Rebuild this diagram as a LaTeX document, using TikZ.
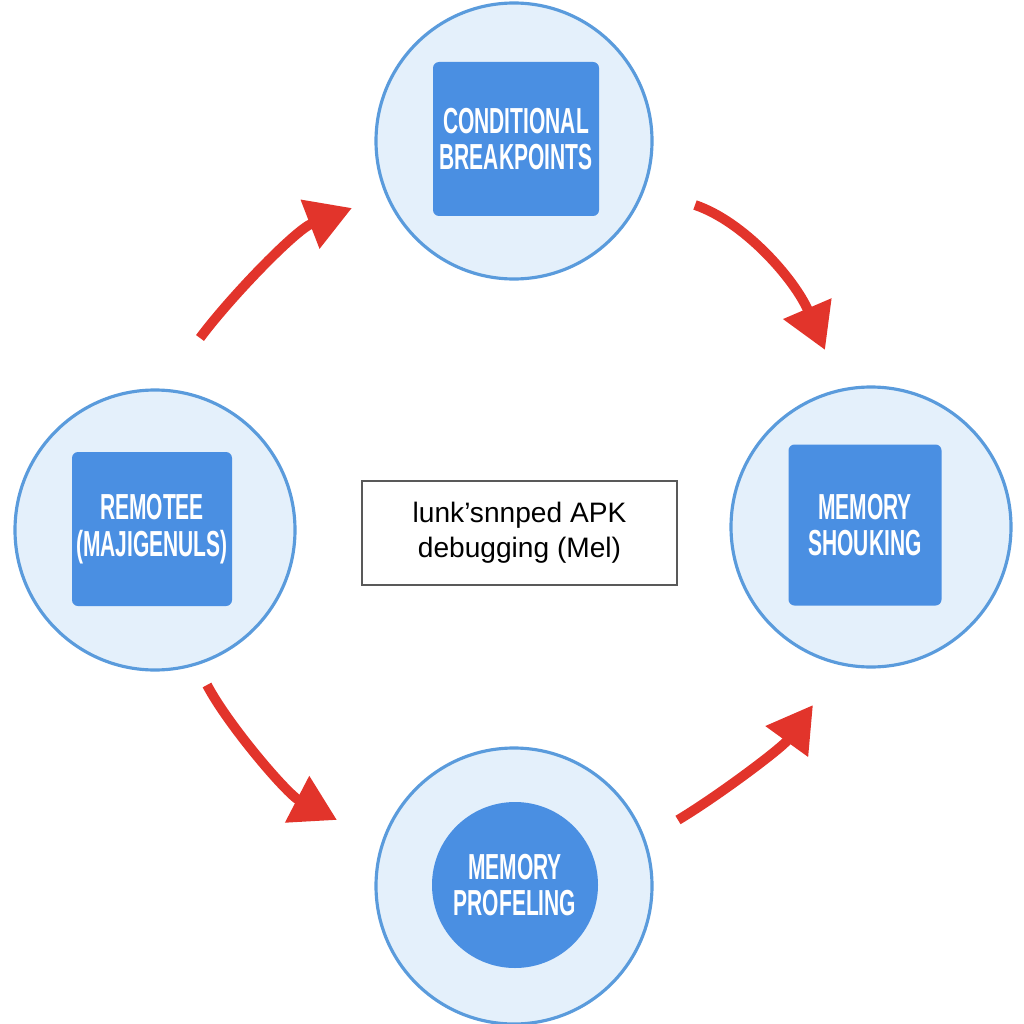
\documentclass[tikz,border=0pt]{standalone}
\usepackage{fontspec}
\setmainfont{Liberation Sans}
\usetikzlibrary{arrows.meta, positioning}
\definecolor{ringfill}{HTML}{E4F0FB}
\definecolor{ringline}{HTML}{5A9BDC}
\definecolor{tilefill}{HTML}{4A8FE2}
\definecolor{flowred}{HTML}{E2342B}
\newcommand{\narrow}[1]{\scalebox{0.58}[1]{#1}}

\begin{document}
\begin{tikzpicture}[
  x=0.1mm, y=-0.1mm,
  ring/.style={circle, draw=ringline, line width=0.9pt, fill=ringfill, minimum size=27.6mm, inner sep=0pt},
  tile/.style={rounded corners=0.6mm, fill=tilefill, text=white, align=center,
    font=\bfseries\fontsize{10.3}{10.5}\selectfont, inner sep=0pt},
  flow/.style={flowred, line width=2.8pt, -{Triangle[length=4.5mm, width=5mm]}}
]
\useasboundingbox (0,0) rectangle (1024,1024);
% outer rings
\node[ring] (top)   at (514,141) {};
\node[ring, minimum size=28mm] (left)  at (155,530) {};
\node[ring, minimum size=28mm] (right) at (871,527) {};
\node[ring] (bot)   at (514,886) {};
% tiles inside the rings
\node[tile, minimum width=16.6mm, minimum height=15.4mm] (brk) at (516,139)
  {\narrow{CONDITIONAL}\\\narrow{BREAKPOINTS}};
\node[tile, minimum width=16mm, minimum height=15.4mm] (rem) at (152,529)
  {\narrow{REMOTEE}\\\narrow{(MAJIGENULS)}};
\node[tile, minimum width=15.3mm, minimum height=16.1mm] (shk) at (865,525)
  {\narrow{MEMORY}\\\narrow{SHOUKING}};
\node[tile, circle, minimum size=16.6mm] (prf) at (515,885)
  {\narrow{MEMORY}\\\narrow{PROFELING}};
% centre label
\node[draw=black!65, line width=0.8pt, fill=white, minimum width=31.5mm, minimum height=10.4mm,
  align=center, font=\fontsize{8}{10}\selectfont] (apk) at (519.5,533)
  {lunk'snnped APK\\debugging (Mel)};
% curved arrows
\coordinate (a1s) at (200,338); \coordinate (a1e) at (352,208);
\coordinate (a2s) at (695,205); \coordinate (a2e) at (825,350);
\coordinate (a3s) at (207,685); \coordinate (a3e) at (337,820);
\coordinate (a4s) at (678,820); \coordinate (a4e) at (813,705);
\draw[flow] (a1s) .. controls (228,300) and (295,230) .. (a1e);
\draw[flow] (a2s) .. controls (745,222) and (795,280) .. (a2e);
\draw[flow] (a3s) .. controls (228,725) and (287,794) .. (a3e);
\draw[flow] (a4s) .. controls (718,796) and (782,748) .. (a4e);
\end{tikzpicture}
\end{document}
